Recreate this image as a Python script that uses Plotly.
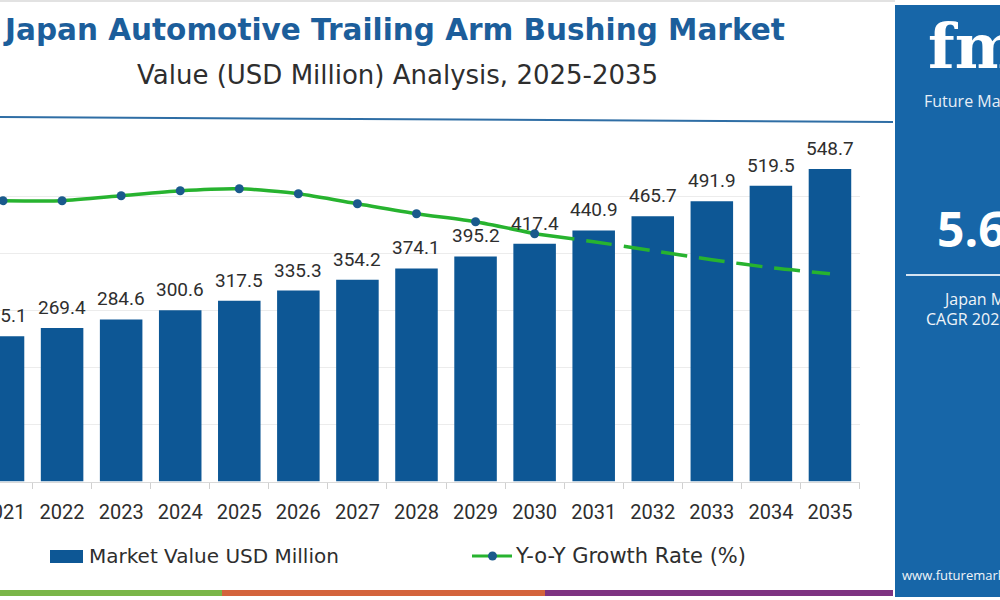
import plotly.graph_objects as go

# ---------------- data ----------------
years = [str(y) for y in range(2021, 2036)]
market_value = [255.1, 269.4, 284.6, 300.6, 317.5, 335.3, 354.2, 374.1,
                395.2, 417.4, 440.9, 465.7, 491.9, 519.5, 548.7]
yoy_growth = [5.63, 5.63, 5.68, 5.73, 5.75, 5.70, 5.60, 5.50,
              5.42, 5.30, 5.22, 5.13, 5.04, 4.96, 4.90]
value_labels = [f"{v:.1f}" for v in market_value]
solid_years = years[:10]
solid_growth = yoy_growth[:10]
dashed_years = years[9:]
dashed_growth = yoy_growth[9:]

W, H = 1000, 600
def fx(p):
    return p / W
def fy(p):
    return 1 - p / H

BAR = "#0d5795"
GREEN = "#27b32f"
MARK = "#1a5a8c"
PANEL = "#1766a8"
TXT = "#2e2e2e"

fig = go.Figure()
fig.add_trace(go.Bar(x=years, y=market_value, width=0.72,
                     marker=dict(color=BAR, line=dict(width=0)),
                     name="Market Value USD Million", showlegend=False,
                     yaxis="y"))
fig.add_trace(go.Scatter(x=dashed_years, y=dashed_growth, mode="lines",
                         line=dict(color=GREEN, width=3.5, shape="spline", smoothing=0.6,
                                   dash="40px,12px,26px,12px,26px,12px,26px,12px,26px,12px,26px,12px,26px,12px,26px,12px"),
                         showlegend=False, yaxis="y2"))
fig.add_trace(go.Scatter(x=solid_years, y=solid_growth, mode="lines+markers",
                         line=dict(color=GREEN, width=3.5, shape="spline", smoothing=0.6),
                         marker=dict(color=MARK, size=9),
                         name="Y-o-Y Growth Rate (%)", showlegend=False, yaxis="y2"))

annotations = []
for i, (v, lab) in enumerate(zip(market_value, value_labels)):
    annotations.append(dict(x=i, y=v, xref="x", yref="y", text=lab, showarrow=False,
                            yanchor="bottom", yshift=7,
                            font=dict(family="Roboto", size=19, color=TXT)))

def note(x, y, text, size, color, xanchor="left", family="Open Sans", bold=False):
    t = f"<b>{text}</b>" if bold else text
    annotations.append(dict(x=fx(x), y=fy(y), xref="paper", yref="paper", text=t,
                            showarrow=False, xanchor=xanchor, yanchor="middle",
                            font=dict(family=family, size=size, color=color)))

note(394, 30, "Japan Automotive Trailing Arm Bushing Market", 29.5, "#1c5e9b", "center",
     family="DejaVu Sans", bold=True)
note(397, 75, "Value (USD Million) Analysis, 2025-2035", 26, TXT, "center", family="DejaVu Sans")
note(87, 556, "Market Value USD Million", 20, TXT, family="DejaVu Sans")
note(513, 556, "Y-o-Y Growth Rate (%)", 21, TXT, family="DejaVu Sans")
# side panel text
note(926, 46, "fmi", 62, "white", family="DejaVu Serif", bold=True)
note(922, 101, "Future Market Insights", 16, "#e6eef7")
note(935, 228, "5.6%", 48, "white", family="Open Sans", bold=True)
note(941, 299, "Japan Market", 16, "#f0f4f8")
note(924, 319, "CAGR 2025-2035", 16, "#f0f4f8")
note(900, 575, "www.futuremarketinsights.com", 13, "#f0f4f8")

shapes = []
def rect(x0, y0, x1, y1, color):
    shapes.append(dict(type="rect", xref="paper", yref="paper", x0=fx(x0), x1=fx(x1),
                       y0=fy(y1), y1=fy(y0), fillcolor=color, line=dict(width=0), layer="below"))
def line(x0, y0, x1, y1, color, width):
    shapes.append(dict(type="line", xref="paper", yref="paper", x0=fx(x0), x1=fx(x1),
                       y0=fy(y0), y1=fy(y1), line=dict(color=color, width=width)))

rect(895, 5, 1000, 597, PANEL)
line(906, 275, 1000, 275, "#d6e4f2", 2)
line(0, 117, 893, 122, "#2f6ea5", 2)
line(0, 1, 895, 1, "#e2e2e2", 2)
rect(0, 590, 222, 596, "#7ab648")
rect(222, 590, 545, 596, "#d4643c")
rect(545, 590, 893, 596, "#7e3382")
# manual legend symbols
rect(50, 550, 83, 563, BAR)
line(472, 556, 512, 556, GREEN, 3)
shapes.append(dict(type="circle", xref="paper", yref="paper",
                   x0=fx(488), x1=fx(497), y0=fy(560.5), y1=fy(551.5),
                   fillcolor=MARK, line=dict(width=0)))

fig.update_layout(
    template="none",
    width=W, height=H,
    margin=dict(l=0, r=0, t=0, b=0, autoexpand=False),
    paper_bgcolor="white", plot_bgcolor="white",
    bargap=0.28,
    showlegend=False,
    xaxis=dict(domain=[0, 0.8595], type="category", range=[-0.051, 14.5],
               showline=True, linecolor="#d9d9d9", linewidth=1,
               ticks="outside", tickson="boundaries", ticklen=6, tickcolor="#d0d0d0",
               ticklabelstandoff=12,
               tickfont=dict(family="Roboto", size=20, color=TXT),
               showgrid=False, zeroline=False, automargin=False),
    yaxis=dict(domain=[fy(481.5), fy(139.8)], range=[0, 600], dtick=100, tick0=0,
               showgrid=True, gridcolor="#ececec", gridwidth=1,
               showticklabels=False, zeroline=False, showline=False, automargin=False),
    yaxis2=dict(overlaying="y", range=[2.822, 6.239], showgrid=False,
                showticklabels=False, zeroline=False, showline=False, automargin=False),
    annotations=annotations,
    shapes=shapes,
)

fig.write_html("out.html")
